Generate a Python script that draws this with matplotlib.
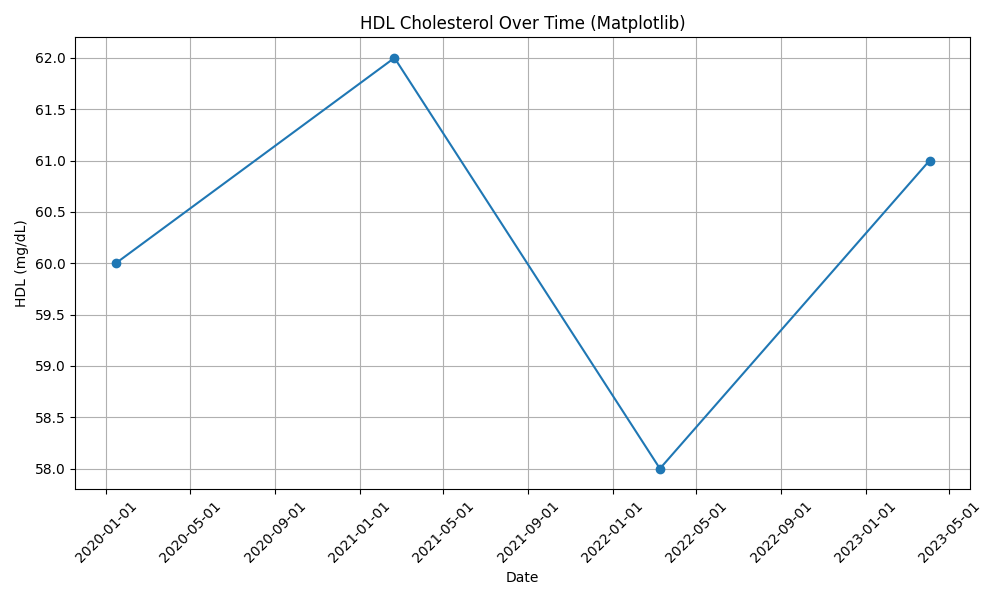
import matplotlib
matplotlib.use("Agg")
import matplotlib.pyplot as plt
import matplotlib.dates as mdates
import pandas as pd

dates = ["2020-01-15", "2021-02-20", "2022-03-10", "2023-04-03"]
hdl = [60, 62, 58, 61]

d = pd.to_datetime(dates)
fig, ax = plt.subplots(figsize=(10, 6), dpi=100)
ax.plot(d, hdl, marker="o")
ax.set_title("HDL Cholesterol Over Time (Matplotlib)")
ax.set_xlabel("Date")
ax.set_ylabel("HDL (mg/dL)")
ax.xaxis.set_major_locator(mdates.MonthLocator(bymonth=[1, 5, 9]))
ax.xaxis.set_major_formatter(mdates.DateFormatter("%Y-%m-%d"))
ax.grid(True)
plt.xticks(rotation=45)
plt.tight_layout()
fig.savefig("out.png")
